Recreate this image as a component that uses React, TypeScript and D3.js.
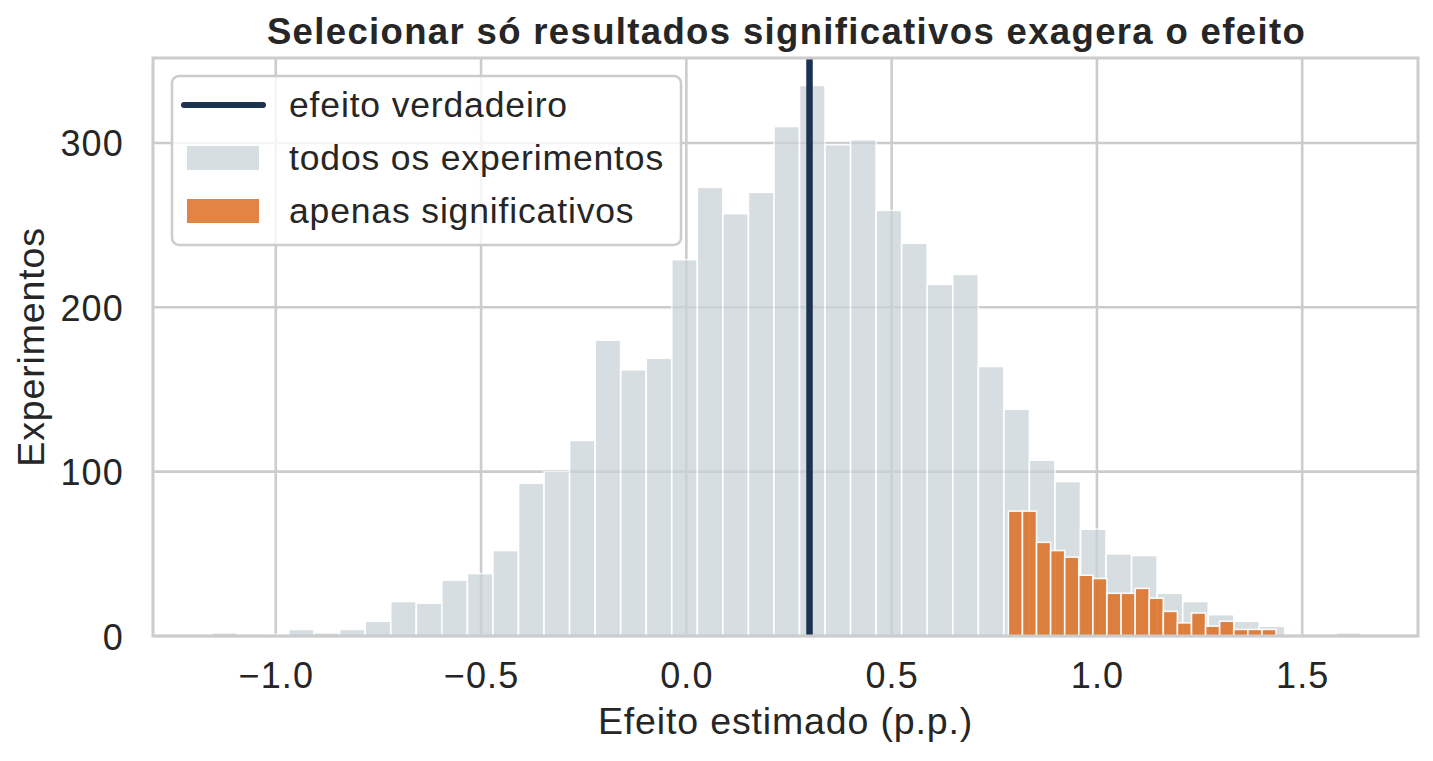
import * as d3 from "d3";
import React from "react";

// contagens do histograma (todos os experimentos), 45 bins
const allCounts = [
  2, 0, 1, 4, 2, 4, 9, 21, 20, 34, 38, 52, 93, 100, 119, 180, 162, 169, 229, 273, 257, 270, 310, 335, 299,
  302, 259, 239, 214, 220, 164, 138, 107, 94, 65, 50, 49, 26, 21, 13, 9, 6, 0, 0, 2,
];
const allRange = [-1.1555, 1.6445];

// só os significativos, 19 bins
const sigCounts = [76, 76, 57, 52, 48, 37, 35, 26, 26, 29, 23, 15, 8, 14, 6, 9, 4, 4, 4];
const sigRange = [0.7843, 1.4362];

const trueEffect = 0.3;
const xTicks = [-1.0, -0.5, 0.0, 0.5, 1.0, 1.5];
const yTicks = [0, 100, 200, 300];
const legendLabels = ["efeito verdadeiro", "todos os experimentos", "apenas significativos"];

const W = 1433;
const H = 761;
const FONT = '"Liberation Sans", Arial, sans-serif';
const TEXT = "#262626";
const GRID = "#cccccc";
const GRAY = "#cad3d8";
const ORANGE = "#dd6f22";
const NAVY = "#1b3250";

function bins(counts: number[], range: number[]) {
  const w = (range[1] - range[0]) / counts.length;
  return counts.map((c, i) => ({ x0: range[0] + i * w, x1: range[0] + (i + 1) * w, c }));
}

const fmt = (v: number) => d3.format(".1f")(v).replace("-", "\u2212");

export default function App() {
  const left = 153, right = 1418, top = 58, bottom = 636;
  const x = d3.scaleLinear().domain([-1.299, 1.782]).range([left, right]);
  const y = d3.scaleLinear().domain([0, 351.7]).range([bottom, top]);

  const allBins = bins(allCounts, allRange).filter((b) => b.c > 0);
  const sigBins = bins(sigCounts, sigRange).filter((b) => b.c > 0);

  // legenda
  const lg = { x: 172, y: 76, w: 509, h: 169 };
  const rowY = [105, 158, 211];

  return (
    <svg
      width={W}
      height={H}
      style={{ position: "absolute", left: 0, top: 0, background: "#fff" }}
      fontFamily={FONT}
    >
      <rect width={W} height={H} fill="#fff" />

      {/* grade */}
      <g stroke={GRID} strokeWidth={2.6}>
        {xTicks.map((t) => (
          <line key={"gx" + t} x1={x(t)} x2={x(t)} y1={top} y2={bottom} />
        ))}
        {yTicks.map((t) => (
          <line key={"gy" + t} x1={left} x2={right} y1={y(t)} y2={y(t)} />
        ))}
      </g>

      {/* todos os experimentos */}
      <g opacity={0.75}>
        {allBins.map((b, i) => (
          <rect
            key={i}
            x={x(b.x0)}
            y={y(b.c)}
            width={x(b.x1) - x(b.x0)}
            height={y(0) - y(b.c)}
            fill={GRAY}
            stroke="#fff"
            strokeWidth={1.6}
          />
        ))}
      </g>

      {/* apenas significativos */}
      <g opacity={0.85}>
        {sigBins.map((b, i) => (
          <rect
            key={i}
            x={x(b.x0)}
            y={y(b.c)}
            width={x(b.x1) - x(b.x0)}
            height={y(0) - y(b.c)}
            fill={ORANGE}
            stroke="#fff"
            strokeWidth={1.6}
          />
        ))}
      </g>

      {/* efeito verdadeiro */}
      <line x1={x(trueEffect)} x2={x(trueEffect)} y1={top} y2={bottom} stroke={NAVY} strokeWidth={6.5} />

      {/* moldura */}
      <rect x={left} y={top} width={right - left} height={bottom - top} fill="none" stroke={GRID} strokeWidth={3} />

      {/* ticks */}
      <g fill={TEXT} fontSize={36} style={{ letterSpacing: "1.1px" }}>
        {xTicks.map((t) => (
          <text key={"tx" + t} x={x(t) + 0.55} y={688} textAnchor="middle">
            {fmt(t)}
          </text>
        ))}
        {yTicks.map((t) => (
          <text key={"ty" + t} x={123.8} y={y(t) + 13.5} textAnchor="end">
            {t}
          </text>
        ))}
      </g>

      {/* rótulos */}
      <g fill={TEXT} fontSize={37.5} style={{ letterSpacing: "0.85px" }}>
        <text x={(left + right) / 2} y={734} textAnchor="middle">
          Efeito estimado (p.p.)
        </text>
        <text transform={`translate(44, ${(top + bottom) / 2}) rotate(-90)`} textAnchor="middle">
          Experimentos
        </text>
      </g>

      <text
        x={(left + right) / 2 + 1}
        y={44}
        textAnchor="middle"
        fill={TEXT}
        fontSize={36.5}
        fontWeight="bold"
        style={{ letterSpacing: "1.35px" }}
      >
        Selecionar só resultados significativos exagera o efeito
      </text>

      {/* legenda */}
      <g>
        <rect
          x={lg.x}
          y={lg.y}
          width={lg.w}
          height={lg.h}
          rx={7}
          fill="#fff"
          fillOpacity={0.8}
          stroke={GRID}
          strokeWidth={2.5}
        />
        <line x1={184} x2={263} y1={rowY[0]} y2={rowY[0]} stroke={NAVY} strokeWidth={6} strokeLinecap="round" />
        <rect x={187} y={rowY[1] - 12} width={72} height={24} fill={GRAY} opacity={0.75} />
        <rect x={187} y={rowY[2] - 12} width={72} height={24} fill={ORANGE} opacity={0.85} />
        <g fill={TEXT} fontSize={35.5} style={{ letterSpacing: "0.85px" }}>
          {legendLabels.map((l, i) => (
            <text key={l} x={289} y={rowY[i] + 12}>
              {l}
            </text>
          ))}
        </g>
      </g>
    </svg>
  );
}
